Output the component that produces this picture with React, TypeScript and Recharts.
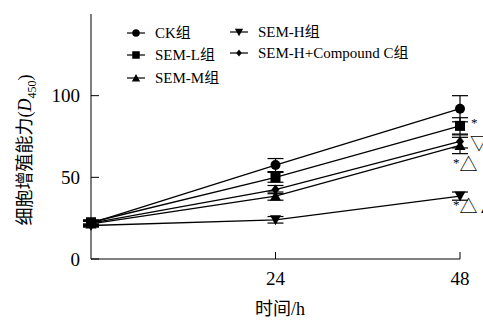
import React from 'react';
import { LineChart, Line, XAxis, YAxis, ErrorBar, Label } from 'recharts';

// 时间点 (h)
const times = [0, 24, 48];

// 各组 D450 均值与误差
const ck = [22, 57.5, 92];
const ckErr = [1.5, 4, 8];
const semL = [22.5, 50, 81.5];
const semLErr = [1.5, 3, 5];
const semM = [21.5, 38.5, 69.5];
const semMErr = [1.5, 2.5, 5];
const semH = [20.5, 24, 38.5];
const semHErr = [1, 2, 2.5];
const semHC = [22, 42.5, 72];
const semHCErr = [1.5, 2.5, 4];

const xTicks = [24, 48];
const yTicks = [0, 50, 100];

const FONT = 'Liberation Serif, Noto Sans CJK SC, serif';

const data = times.map((t, i) => ({
  t,
  ck: ck[i], ckErr: ckErr[i],
  semL: semL[i], semLErr: semLErr[i],
  semM: semM[i], semMErr: semMErr[i],
  semH: semH[i], semHErr: semHErr[i],
  semHC: semHC[i], semHCErr: semHCErr[i],
}));

type Shape = 'circle' | 'square' | 'up' | 'down' | 'diamond';

const marker = (shape: Shape, cx: number, cy: number, s = 1) => {
  switch (shape) {
    case 'circle':
      return <circle cx={cx} cy={cy} r={5 * s} fill="#000" />;
    case 'square':
      return <rect x={cx - 5 * s} y={cy - 5 * s} width={10 * s} height={10 * s} fill="#000" />;
    case 'up':
      return <polygon points={`${cx},${cy - 5.5 * s} ${cx - 5.5 * s},${cy + 4.5 * s} ${cx + 5.5 * s},${cy + 4.5 * s}`} fill="#000" />;
    case 'down':
      return <polygon points={`${cx},${cy + 5.5 * s} ${cx - 5.5 * s},${cy - 4.5 * s} ${cx + 5.5 * s},${cy - 4.5 * s}`} fill="#000" />;
    default:
      return <polygon points={`${cx},${cy - 5 * s} ${cx - 4 * s},${cy} ${cx},${cy + 5 * s} ${cx + 4 * s},${cy}`} fill="#000" />;
  }
};

const dotOf = (shape: Shape) => (p: any) => <g key={`${shape}-${p.index}`}>{marker(shape, p.cx, p.cy)}</g>;

const legendItems: { name: string; shape: Shape; x: number; y: number }[] = [
  { name: 'CK组', shape: 'circle', x: 127, y: 33 },
  { name: 'SEM-L组', shape: 'square', x: 127, y: 55 },
  { name: 'SEM-M组', shape: 'up', x: 127, y: 78 },
  { name: 'SEM-H组', shape: 'down', x: 230, y: 32 },
  { name: 'SEM-H+Compound C组', shape: 'diamond', x: 230, y: 53 },
];

const ChartLegend = () => (
  <svg width={483} height={100} style={{ position: 'absolute', left: 0, top: 0 }}>
    {legendItems.map((it) => (
      <g key={it.name}>
        <line x1={it.x} x2={it.x + 18} y1={it.y} y2={it.y} stroke="#000" strokeWidth={1.2} />
        {marker(it.shape, it.x + 9, it.y, it.shape === 'diamond' ? 0.7 : 0.75)}
        <text x={it.x + 28} y={it.y + 5} fontSize={15} style={{ fontFamily: FONT }} fill="#000">{it.name}</text>
      </g>
    ))}
  </svg>
);

const note = (text: React.ReactNode, dx: number, dy: number, fs = 18) => (p: any) =>
  p.index === 2 ? (
    <text key={`n-${p.index}`} x={p.x + dx} y={p.y + dy} fontSize={fs} style={{ fontFamily: FONT }} fill="#000">{text}</text>
  ) : null;

const star = <tspan fontSize={13} dy={-4}>*</tspan>;

const App: React.FC = () => (
  <div style={{ position: 'absolute', left: 0, top: 0, width: 483, height: 320, background: '#fff', fontFamily: FONT }}>
    <LineChart width={483} height={320} data={data} margin={{ top: 14, right: 23, bottom: 0, left: 0 }}>
      <XAxis
        dataKey="t"
        type="number"
        domain={[0, 48]}
        ticks={xTicks}
        height={61}
        stroke="#000"
        tickSize={-7}
        tickMargin={20}
        tick={{ fill: '#000', fontSize: 19, fontFamily: FONT }}
      >
        <Label
          content={() => (
            <text x={280} y={315} textAnchor="middle" fontSize={18} style={{ fontFamily: FONT }} fill="#000">时间/h</text>
          )}
        />
      </XAxis>
      <YAxis
        type="number"
        domain={[0, 150]}
        ticks={yTicks}
        width={91}
        stroke="#000"
        tickSize={-8}
        tickMargin={19}
        tick={{ fill: '#000', fontSize: 19, fontFamily: FONT }}
      >
        <Label
          content={() => (
            <text x={0} y={0} transform="translate(31,150) rotate(-90)" textAnchor="middle" fontSize={18} style={{ fontFamily: FONT }} fill="#000">
              细胞增殖能力(<tspan fontStyle="italic">D</tspan>
              <tspan fontSize={12} dy={5}>450</tspan>
              <tspan dy={-5}>)</tspan>
            </text>
          )}
        />
      </YAxis>
      <Line dataKey="ck" stroke="#000" strokeWidth={1.3} dot={dotOf('circle')} isAnimationActive={false}>
        <ErrorBar dataKey="ckErr" width={8} stroke="#000" strokeWidth={1.2} />
      </Line>
      <Line dataKey="semL" stroke="#000" strokeWidth={1.3} dot={dotOf('square')} isAnimationActive={false}
        label={note(star, 11, 5)}>
        <ErrorBar dataKey="semLErr" width={8} stroke="#000" strokeWidth={1.2} />
      </Line>
      <Line dataKey="semM" stroke="#000" strokeWidth={1.3} dot={dotOf('up')} isAnimationActive={false}
        label={note(<>{star}<tspan dy={4}>△</tspan></>, -7, 26)}>
        <ErrorBar dataKey="semMErr" width={8} stroke="#000" strokeWidth={1.2} />
      </Line>
      <Line dataKey="semH" stroke="#000" strokeWidth={1.3} dot={dotOf('down')} isAnimationActive={false}
        label={note(<>{star}<tspan dy={4}>△▲</tspan></>, -7, 17)}>
        <ErrorBar dataKey="semHErr" width={8} stroke="#000" strokeWidth={1.2} />
      </Line>
      <Line dataKey="semHC" stroke="#000" strokeWidth={1.3} dot={dotOf('diamond')} isAnimationActive={false}
        label={note('▽', 10, 9)}>
        <ErrorBar dataKey="semHCErr" width={8} stroke="#000" strokeWidth={1.2} />
      </Line>
    </LineChart>
    <ChartLegend />
  </div>
);

export default App;
